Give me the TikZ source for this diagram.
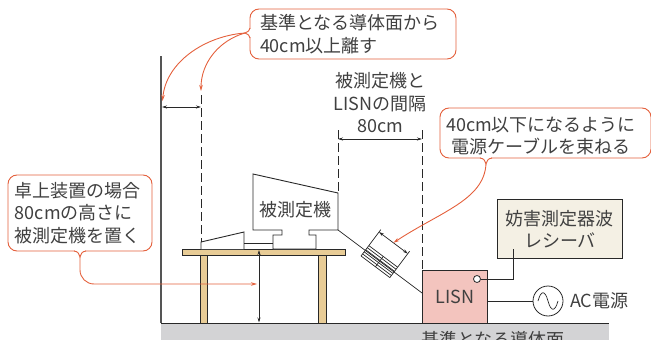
\documentclass[tikz,border=0pt]{standalone}
\usepackage{fontspec}
\setmainfont{Noto Sans CJK JP}
\usetikzlibrary{arrows.meta}
\definecolor{ink}{RGB}{40,40,40}
\definecolor{txt}{RGB}{64,64,64}
\definecolor{wallgray}{RGB}{85,85,85}
\definecolor{orangeline}{RGB}{228,96,60}
\definecolor{tan}{RGB}{232,204,150}
\definecolor{lisnpink}{RGB}{243,196,190}
\definecolor{cream}{RGB}{244,240,228}
\definecolor{groundgray}{RGB}{211,211,213}
\begin{document}
\begin{tikzpicture}[x=1pt,y=-1pt,
  every node/.style={inner sep=0pt, text=txt},
  base/.style={font=\fontsize{18}{22.5}\selectfont},
  outline/.style={draw=ink, line width=0.9pt},
  thin/.style={draw=ink, line width=0.7pt},
  tip/.style={Stealth[length=5pt,width=3pt]},
  dimline/.style={draw=ink, line width=0.7pt, {Stealth[length=5pt,width=3pt]}-{Stealth[length=5pt,width=3pt]}},
  guide/.style={draw=ink, line width=0.7pt, dash pattern=on 9pt off 4pt},
  calloutbox/.style={draw=orangeline, line width=0.9pt, rounded corners=9pt, fill=white},
  calloutline/.style={draw=orangeline, line width=0.9pt},
  callarrow/.style={calloutline, -{Stealth[length=6pt,width=3.5pt]}},
]
\useasboundingbox (0,0) rectangle (651,340);

% reference ground plane and wall
\fill[groundgray] (161,323) rectangle (609,345);
\draw[ink, line width=1pt] (161,323) -- (609,323);
\coordinate (wallTop) at (161,56);
\coordinate (wallBot) at (161,323);
\draw[draw=wallgray, line width=1.4pt] (wallTop) -- (wallBot);
\node[base] (groundlabel) at (493,340) {基準となる導体面};

% table
\draw[outline, fill=tan] (200,255) rectangle (207,323);
\draw[outline, fill=tan] (318,255) rectangle (326,323);
\draw[outline, fill=tan] (182,249) rectangle (345,255);

% equipment under test with keyboard
\draw[outline, fill=white] (253,174) -- (338,193) -- (338,230) -- (309,230) -- (309,235)
  -- (316,235) -- (316,249) -- (273,249) -- (273,235) -- (282,235) -- (282,230)
  -- (253,230) -- cycle;
\draw[outline, fill=white] (201,249) -- (201,242) -- (244,232) -- (244,249);
\draw[outline] (244,243) -- (273,243);
\node[base] (eutlabel) at (295,210) {被測定機};

% LISN, receiver and mains source
\node[outline, fill=lisnpink, minimum width=65pt, minimum height=53pt, anchor=north west, base] (lisn) at (422,270) {LISN};
\node[outline, fill=cream, minimum width=125pt, minimum height=59pt, anchor=north west, align=center, base] (rx) at (497,199) {妨害測定器波\\レシーバ};
\node[circle, draw=ink, line width=0.8pt, fill=white, minimum size=7pt] (term) at (477,279) {};
\coordinate (rxIn) at (513,249);
\draw[thin] (term.east) -| (rxIn);
\node[circle, draw=ink, line width=0.8pt, minimum size=30pt] (ac) at (548,301) {};
\draw[thin] (lisn.east |- ac) -- (ac.west);
\draw[thin] ([xshift=-10pt]ac.center) .. controls +(3,-11) and +(-3,-11) .. (ac.center)
  .. controls +(3,11) and +(-3,11) .. ([xshift=10pt]ac.center);
\node[base, anchor=west] (aclabel) at (570,301) {AC電源};

% power cable with bundled section
\coordinate (eutPort) at (338,230);
\coordinate (lisnPort) at (422,293);
\draw[thin] (eutPort) -- (lisnPort);
\begin{scope}[shift={(338,230)}, rotate=-36.87]
  \foreach \t in {-6,-3.4,-0.8,1.8,4.4,7} \draw[thin] (34,\t) -- (70,\t);
  \draw[thin] (34,-6) -- (34,7);
  \draw[thin] (70,-6) -- (70,7);
  \draw[thin] (52,-6) -- (52,7);
  \draw[thin] (34,-6) -- (34,-26);
  \draw[thin] (70,-6) -- (70,-26);
  \draw[dimline] (34,-23) -- (70,-23);
  \coordinate (bundleTip) at (52,-23);
\end{scope}

% guide lines and dimensions
\draw[guide] (201,95) -- (201,242);
\draw[guide] (338,130) -- (338,193);
\draw[guide] (422,130) -- (422,270);
\draw[dimline] (162,107) -- (201,107);
\draw[dimline] (338,139) -- (422,139);
\draw[dimline] (259,250) -- (259,322.5);
\node[base, align=center] (gaplabel) at (380,103) {被測定機と\\LISNの間隔\\80cm};

% callout: distance from the reference plane
\node[calloutbox, base, minimum width=206pt, minimum height=50pt, text width=186pt, align=left] (calA) at (353,34) {基準となる導体面から\\40cm以上離す};
\coordinate (nA) at (245,33);
\draw[white, line width=2pt] (250,29) -- (250,37);
\draw[calloutline] (250,28) .. controls (249,31) .. (nA) .. controls (249,35) .. (250,38);
\coordinate (wallTip) at (162.5,101);
\coordinate (guideTip) at (201,91);
\draw[callarrow] (nA) .. controls (205,36) and (166,62) .. (wallTip);
\draw[callarrow] (nA) .. controls (220,40) and (201,62) .. (guideTip);

% callout: cable bundling
\node[calloutbox, minimum width=211pt, minimum height=50pt] (calB) at (545.5,133) {};
\node[base, align=center] (calBtext) at (541,136) {40cm以下になるように\\電源ケーブルを束ねる};
\coordinate (nB) at (486,164);
\draw[white, line width=2pt] (481,158) -- (491,158);
\draw[calloutline] (480,158) .. controls (484,159) .. (nB) .. controls (488,159) .. (492,158);
\draw[callarrow] (nB) .. controls (484,200) and (440,212) .. (bundleTip);

% callout: table-top equipment height
\node[calloutbox, base, minimum width=144pt, minimum height=76pt, text width=130pt, align=left] (calC) at (80,213) {卓上装置の場合\\80cmの高さに\\被測定機を置く};
\coordinate (nC) at (80,257);
\draw[white, line width=2pt] (75,251) -- (85,251);
\draw[calloutline] (74,251) .. controls (78,252) .. (nC) .. controls (82,252) .. (86,251);
\coordinate (heightTip) at (257,284);
\draw[callarrow, rounded corners=14pt] (nC) |- (heightTip);
\end{tikzpicture}
\end{document}
